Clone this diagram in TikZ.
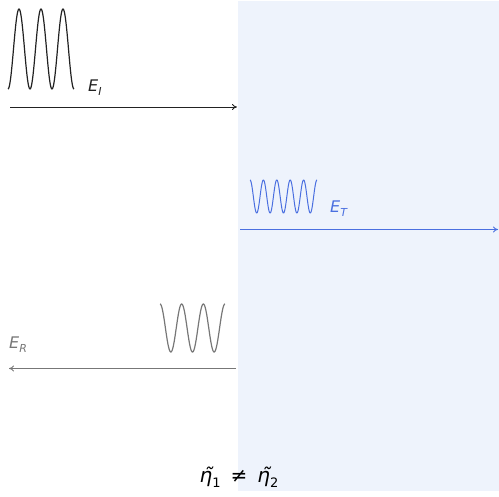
\documentclass[tikz,border=0pt]{standalone}
\usepackage{fontspec}
\setmainfont{DejaVu Sans}
\usetikzlibrary{arrows.meta}
\definecolor{slab}{HTML}{EEF3FC}
\definecolor{tblue}{HTML}{4A6FE0}
\definecolor{rgray}{HTML}{777777}
\definecolor{iblack}{HTML}{222222}
\tikzset{
  wave/.style={line width=1.2pt, line join=round},
  ray/.style={line width=0.9pt, -{To[length=5pt,width=6pt]}},
  lab/.style={font=\fontsize{16}{18}\selectfont\itshape, inner sep=0pt},
}
\begin{document}
\begin{tikzpicture}[x=1pt,y=-1pt]
\useasboundingbox (0,0) rectangle (499,497);
% slab
\fill[slab] (238,1) rectangle (499,491);
% incident
\draw[wave, iblack] plot[domain=8:74, samples=200, smooth] (\x, {49+40*cos(16.3636*(\x-8))});
\node[lab, iblack, anchor=base west] (EI) at (88,92) {E\raisebox{-0.25em}{\fontsize{11}{13}\selectfont I}};
\coordinate (i1) at (10,107);
\coordinate (i2) at (237,107);
\draw[ray, iblack] (i1) -- (i2);
% transmitted
\draw[wave, tblue, line width=1pt] plot[domain=250:317, samples=300, smooth] (\x, {196.5-16.5*cos(26.866*(\x-250))});
\node[lab, tblue, anchor=base west] (ET) at (330,213) {E\raisebox{-0.25em}{\fontsize{11}{13}\selectfont T}};
\coordinate (t1) at (240,229.5);
\coordinate (t2) at (498,229.5);
\draw[ray, tblue] (t1) -- (t2);
% reflected
\draw[wave, rgray] plot[domain=160:225, samples=200, smooth] (\x, {328-24*cos(16.615*(\x-160))});
\node[lab, rgray, anchor=base west] (ER) at (9,349) {E\raisebox{-0.25em}{\fontsize{11}{13}\selectfont R}};
\coordinate (r1) at (236,368.5);
\coordinate (r2) at (9,368.5);
\draw[ray, rgray] (r1) -- (r2);
% relation
\node[inner sep=0pt, font=\fontsize{20}{22}\selectfont, anchor=base] (rel) at (239,483)
  {{\itshape η̃}\raisebox{-0.25em}{\fontsize{13}{15}\selectfont 1}\hspace{0.5em}≠\hspace{0.5em}{\itshape η̃}\raisebox{-0.25em}{\fontsize{13}{15}\selectfont 2}};
\end{tikzpicture}
\end{document}
